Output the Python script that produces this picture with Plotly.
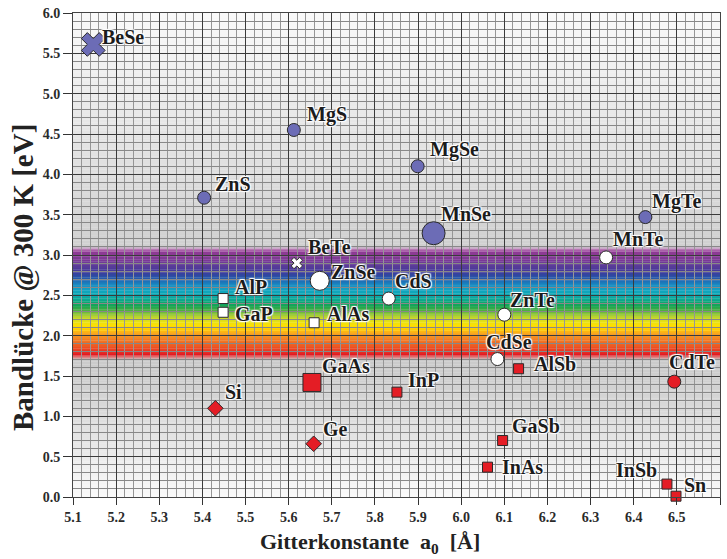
import plotly.graph_objects as go

# ---------------- data ----------------
compounds = ["BeSe", "MgS", "MgSe", "ZnS", "MnSe", "MgTe", "MnTe", "BeTe", "ZnSe", "CdS",
             "ZnTe", "CdSe", "AlP", "GaP", "AlAs", "AlSb", "CdTe", "GaAs", "InP", "Si",
             "Ge", "GaSb", "InAs", "InSb", "Sn"]
lattice_a0 = [5.147, 5.612, 5.899, 5.404, 5.936, 6.427, 6.336, 5.619, 5.672, 5.832,
              6.100, 6.084, 5.448, 5.448, 5.659, 6.133, 6.494, 5.654, 5.851, 5.430,
              5.658, 6.096, 6.061, 6.477, 6.498]
bandgap_eV = [5.61, 4.55, 4.10, 3.71, 3.27, 3.47, 2.97, 2.90, 2.68, 2.46,
              2.26, 1.71, 2.46, 2.29, 2.16, 1.59, 1.43, 1.42, 1.30, 1.10,
              0.66, 0.70, 0.37, 0.16, 0.01]
x_ticks = [5.1, 5.2, 5.3, 5.4, 5.5, 5.6, 5.7, 5.8, 5.9, 6.0, 6.1, 6.2, 6.3, 6.4, 6.5, 6.6]
y_ticks = [0.0, 0.5, 1.0, 1.5, 2.0, 2.5, 3.0, 3.5, 4.0, 4.5, 5.0, 5.5, 6.0]

# ---------------- styles ----------------
PURPLE = "#6c6cb6"
RED = "#e41d25"
WHITE = "#ffffff"
style = {  # fill, symbol, size
    "BeSe": (PURPLE, "x", 21), "MgS": (PURPLE, "circle", 13), "MgSe": (PURPLE, "circle", 13),
    "ZnS": (PURPLE, "circle", 13), "MnSe": (PURPLE, "circle", 23), "MgTe": (PURPLE, "circle", 13),
    "MnTe": (WHITE, "circle", 13), "BeTe": (WHITE, "x", 10), "ZnSe": (WHITE, "circle", 19),
    "CdS": (WHITE, "circle", 13), "ZnTe": (WHITE, "circle", 13), "CdSe": (WHITE, "circle", 13),
    "AlP": (WHITE, "square", 10), "GaP": (WHITE, "square", 10), "AlAs": (WHITE, "square", 10),
    "AlSb": (RED, "square", 10), "CdTe": (RED, "circle", 13), "GaAs": (RED, "square", 18),
    "InP": (RED, "square", 10), "Si": (RED, "diamond", 12), "Ge": (RED, "diamond", 12),
    "GaSb": (RED, "square", 10), "InAs": (RED, "square", 10), "InSb": (RED, "square", 10),
    "Sn": (RED, "square", 10),
}
label_off = {  # anchor, xshift, yshift (px)
    "BeSe": ("left", 7, 7), "MgS": ("left", 11, 15), "MgSe": ("left", 10, 17),
    "ZnS": ("left", 9, 14), "MnSe": ("left", 5, 19), "MgTe": ("left", 5, 16),
    "MnTe": ("left", 5, 18), "BeTe": ("left", 9, 16), "ZnSe": ("left", 9, 9),
    "CdS": ("left", 4, 18), "ZnTe": ("left", 4, 15), "CdSe": ("left", -13, 17),
    "AlP": ("left", 10, 12), "GaP": ("left", 10, -2), "AlAs": ("left", 11, 9),
    "AlSb": ("left", 13, 5), "CdTe": ("left", -7, 20), "GaAs": ("left", 8, 16),
    "InP": ("left", 9, 12), "Si": ("left", 8, 16), "Ge": ("left", 7, 15),
    "GaSb": ("left", 7, 15), "InAs": ("left", 12, 0), "InSb": ("right", -8, 14),
    "Sn": ("left", 6, 11),
}

SERIF = "Liberation Serif, Times New Roman, serif"

fig = go.Figure()

# ---------------- background (gray gradient + visible spectrum band) ----------------
gray_stops = [(0.0, 250), (0.5, 236), (1.0, 220), (1.5, 206), (1.7, 202),
              (3.1, 208), (3.5, 214), (4.0, 222), (5.0, 236), (6.0, 249)]
rainbow_stops = [
    (1.70, None), (1.74, (226, 110, 110)), (1.77, (226, 28, 36)), (1.80, (232, 52, 36)),
    (1.86, (236, 84, 36)), (1.92, (240, 112, 36)), (1.98, (244, 140, 36)), (2.03, (248, 168, 32)),
    (2.07, (255, 200, 0)), (2.12, (255, 224, 0)), (2.17, (232, 224, 20)), (2.22, (200, 216, 44)),
    (2.27, (140, 196, 60)), (2.32, (64, 172, 64)), (2.38, (16, 164, 88)), (2.44, (12, 168, 140)),
    (2.50, (16, 168, 176)), (2.56, (16, 164, 192)), (2.62, (24, 144, 196)), (2.68, (30, 108, 180)),
    (2.74, (44, 74, 162)), (2.80, (68, 56, 154)), (2.87, (92, 60, 152)), (2.93, (122, 58, 150)),
    (3.03, (142, 58, 148)), (3.07, (184, 120, 180)), (3.10, None),
]


def interp_gray(e):
    for (e0, g0), (e1, g1) in zip(gray_stops[:-1], gray_stops[1:]):
        if e0 <= e <= e1:
            t = (e - e0) / (e1 - e0)
            return g0 + t * (g1 - g0)
    return gray_stops[-1][1]


def interp_color(e):
    g = interp_gray(e)
    gc = (g, g, g)
    if e < rainbow_stops[0][0] or e > rainbow_stops[-1][0]:
        return gc
    for (e0, c0), (e1, c1) in zip(rainbow_stops[:-1], rainbow_stops[1:]):
        if e0 <= e <= e1:
            c0 = gc if c0 is None else c0
            c1 = gc if c1 is None else c1
            t = (e - e0) / (e1 - e0)
            return tuple(c0[i] + t * (c1[i] - c0[i]) for i in range(3))
    return gc


shapes = []
step = 0.02
n = int(round(6.0 / step))
for k in range(n):
    y0 = k * step
    c = interp_color(y0 + step / 2)
    shapes.append(dict(type="rect", xref="paper", yref="y", x0=0, x1=1,
                       y0=y0, y1=y0 + step + 0.004, layer="below",
                       fillcolor="rgb(%d,%d,%d)" % tuple(int(round(v)) for v in c),
                       line=dict(width=0)))

# ---------------- markers ----------------
for name, a, e in zip(compounds, lattice_a0, bandgap_eV):
    fill, sym, size = style[name]
    fig.add_trace(go.Scatter(
        x=[a], y=[e], mode="markers", cliponaxis=False, showlegend=False,
        marker=dict(symbol=sym, size=size, color=fill,
                    line=dict(color="#2a2a2a", width=1)),
        hoverinfo="skip"))

annotations = []
for name, a, e in zip(compounds, lattice_a0, bandgap_eV):
    anchor, dx, dy = label_off[name]
    annotations.append(dict(
        x=a, y=e, xref="x", yref="y", text="<b>%s</b>" % name, showarrow=False,
        xanchor=anchor, yanchor="middle", xshift=dx, yshift=dy,
        font=dict(family=SERIF, size=20, color="#1c1c1c",
                  shadow="1px 1px 1px #ffffff, -1px -1px 1px #ffffff, 1px -1px 1px #ffffff, -1px 1px 1px #ffffff")))

# axis titles
annotations.append(dict(
    xref="paper", yref="paper", x=(370 - 73) / 647, y=(497 - 543) / 484,
    text="<b>Gitterkonstante  a<sub>0</sub>  [Å]</b>", showarrow=False,
    xanchor="center", yanchor="middle",
    font=dict(family=SERIF, size=22, color="#222222")))
annotations.append(dict(
    xref="paper", yref="paper", x=(23 - 73) / 647, y=(497 - 278) / 484,
    text="<b>Bandlücke @ 300 K [eV]</b>", showarrow=False, textangle=-90,
    xanchor="center", yanchor="middle",
    font=dict(family=SERIF, size=29, color="#222222")))

tickfont = dict(family=SERIF, size=14, color="#2a2a2a")

fig.update_layout(
    width=727, height=559,
    margin=dict(l=73, r=7, t=13, b=62),
    paper_bgcolor="white", plot_bgcolor="white",
    font=dict(family=SERIF),
    shapes=shapes, annotations=annotations, showlegend=False,
    xaxis=dict(range=[5.1, 6.6], tickvals=x_ticks, ticktext=["<b>%.1f</b>" % v for v in x_ticks],
               ticks="outside", ticklen=7, tickcolor="#333333", tickwidth=1,
               tickfont=tickfont, showgrid=True, gridcolor="#3a3a3a", gridwidth=1,
               minor=dict(dtick=0.02, showgrid=True, gridcolor="#969696", gridwidth=1, ticks=""),
               showline=True, linecolor="#444444", linewidth=1, mirror=True, zeroline=False,
               fixedrange=True),
    yaxis=dict(range=[0, 6], tickvals=y_ticks, ticktext=["<b>%.1f</b>" % v for v in y_ticks],
               ticks="outside", ticklen=9, tickcolor="#333333", tickwidth=1,
               tickfont=tickfont, showgrid=True, gridcolor="#3a3a3a", gridwidth=1,
               minor=dict(dtick=0.1, showgrid=True, gridcolor="#888888", gridwidth=1, ticks=""),
               showline=True, linecolor="#444444", linewidth=1, mirror=True, zeroline=False,
               fixedrange=True),
)

fig.write_html("out.html")
